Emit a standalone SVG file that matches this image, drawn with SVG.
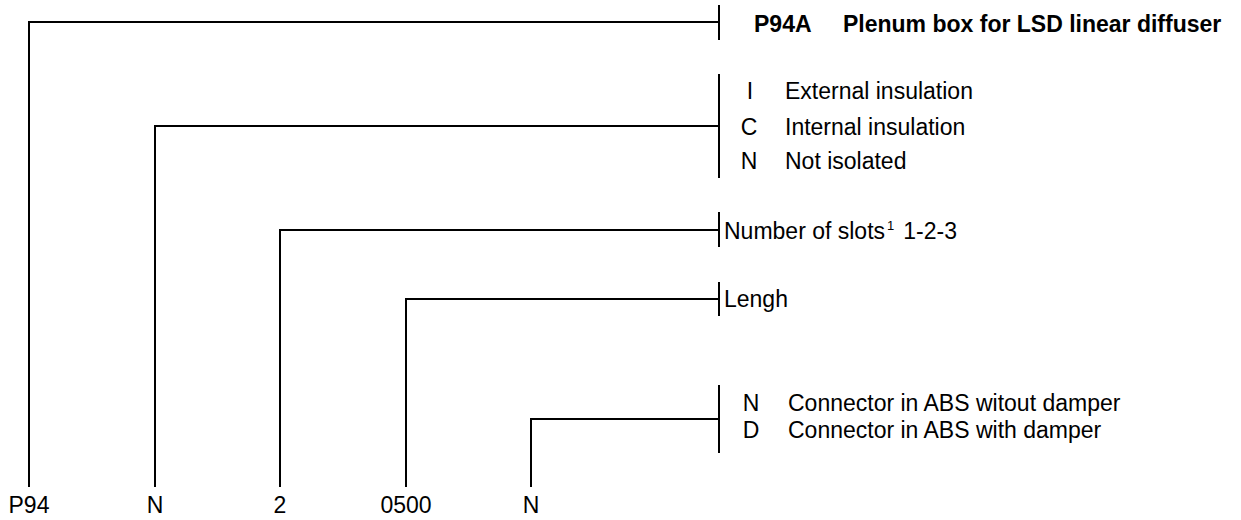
<svg xmlns="http://www.w3.org/2000/svg" width="1241" height="520" viewBox="0 0 1241 520">
  <style>
    .ln { fill: none; stroke: #000; stroke-width: 2; }
    .t { font-family: "Liberation Sans", Arial, sans-serif; font-size: 23px; fill: #000; }
    .b { font-weight: bold; }
    .c { text-anchor: middle; }
    .sup { font-size: 13px; }
  </style>
  <rect width="1241" height="520" fill="#fff"/>
  <g id="connectors">
    <path class="ln" d="M29,487 V22 H719"/>
    <path class="ln" d="M155,487 V126 H719"/>
    <path class="ln" d="M280,487 V230 H719"/>
    <path class="ln" d="M406,487 V299 H719"/>
    <path class="ln" d="M531,487 V419 H719"/>
  </g>
  <g id="node-model">
    <path class="ln" d="M719,5 V40"/>
    <text class="t b" x="754" y="32">P94A</text>
    <text class="t b" x="843" y="32">Plenum box for LSD linear diffuser</text>
  </g>
  <g id="node-insulation">
    <path class="ln" d="M719,74 V178"/>
    <text class="t c" x="750" y="99">I</text>
    <text class="t" x="785" y="99">External insulation</text>
    <text class="t c" x="749" y="135">C</text>
    <text class="t" x="785" y="135">Internal insulation</text>
    <text class="t c" x="749" y="169">N</text>
    <text class="t" x="785" y="169">Not isolated</text>
  </g>
  <g id="node-slots">
    <path class="ln" d="M719,212 V247"/>
    <text class="t" x="724" y="239">Number of slots<tspan class="sup" dy="-9" dx="2">1</tspan><tspan dy="9" dx="9">1-2-3</tspan></text>
  </g>
  <g id="node-length">
    <path class="ln" d="M719,282 V316"/>
    <text class="t" x="724" y="307">Lengh</text>
  </g>
  <g id="node-connector">
    <path class="ln" d="M719,385 V453"/>
    <text class="t c" x="751" y="411">N</text>
    <text class="t" x="788" y="411">Connector in ABS witout damper</text>
    <text class="t c" x="751" y="438">D</text>
    <text class="t" x="788" y="438">Connector in ABS with damper</text>
  </g>
  <g id="node-codes">
    <text class="t c" x="29" y="513">P94</text>
    <text class="t c" x="155" y="513">N</text>
    <text class="t c" x="280" y="513">2</text>
    <text class="t c" x="406" y="513">0500</text>
    <text class="t c" x="531" y="513">N</text>
  </g>
</svg>
